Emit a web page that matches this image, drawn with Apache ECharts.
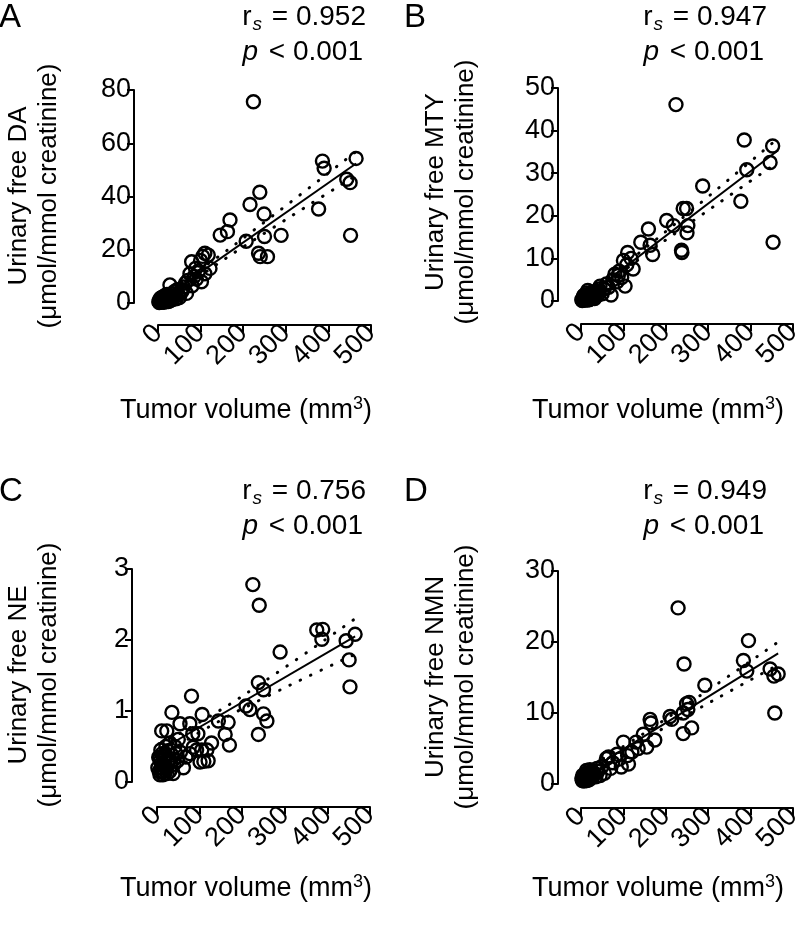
<!DOCTYPE html>
<html><head><meta charset="utf-8">
<script src="https://cdn.jsdelivr.net/npm/echarts@6.0.0/dist/echarts.min.js"></script>
<style>html,body{margin:0;padding:0;background:#fff}#c{width:800px;height:932px}</style>
</head><body><div id="c"></div><script>
// ---------- DATA ----------
const xTicks = [0, 100, 200, 300, 400, 500];

// Panel A: dopamine
const daX = [224,386,390,465,443,451,377,452,239,216,249,289,250,207,236,257,240,169,163,146, 110,105,118,100,79,122,95,85,102,70,60,67,28,45,35,55,50,80,110, 5,8,10,12,15,18,20,22,25,30,14,6,10,28,35,40,3,17, 2,4,7,9,11,13,16,19,21,24,26,32,38,42,48,58,65,90,75,88];
const daY = [75.6,53.3,50.6,54.3,46.5,45.2,35.3,25.4,41.6,37,33.4,25.4,25,23.2,18.7,17.4,17.4,31.2,26.8,25.5, 18.7,17.5,18,16,15.5,13,12,10,8,8.5,6,3.6,6.8,5,3.5,4,2,6.5,11, 0.5,1,0.8,1.5,1.2,0.6,2,1,1.8,2.5,0.3,1.8,2.2,0.8,1.5,2.8,0.2,2.8, 0.5,1.2,0.3,1.6,0.9,2.4,0.7,1.4,3.2,0.5,2.9,1.2,4.2,1.6,3.0,5,7.5,9,11,13];
const daFitX = [5, 465];
const daFitY = [0.9, 52.4];
const daCiX = [5, 110, 250, 465];
const daCiUpper = [2.6, 13.8, 30.4, 56.9];
const daCiLower = [-0.9, 11.4, 26.2, 47.9];

// Panel B: 3-methoxytyramine
const mtyX = [224,385,452,446,391,377,453,287,241,249,202,218,252,250,237,238,159,141,163,169, 110,118,100,108,123,90,96,75,80,71,104,85,60,55,45,40,35,30,25, 5,8,10,12,15,18,20,22,28,14,6,16,32,38,3, 2,4,7,9,11,13,17,19,21,24,26,34,42,50,65,88];
const mtyY = [46.1,37.8,36.4,32.5,30.8,23.4,13.8,27,21.7,21.7,18.9,17.7,17.7,16,11.9,11.4,16.9,13.8,13.1,10.9, 11.4,10,9.5,8.5,7.5,7,5.5,5,6.3,1.4,3.5,4.5,4,2.8,3.5,2.3,1.5,2.2,1, 0.3,0.8,0.5,1.2,0.7,1.5,0.4,1.8,0.9,0.2,1.1,2.5,0.6,1.2,0.1, 0.3,0.6,1.3,0.2,1.0,1.9,0.9,0.3,1.3,2.0,0.6,1.9,2.8,1.7,3.2,6];
const mtyFitX = [5, 465];
const mtyFitY = [0.5, 35.4];
const mtyCiX = [5, 110, 250, 465];
const mtyCiUpper = [1.5, 9.2, 20.4, 38.2];
const mtyCiLower = [-0.6, 7.8, 17.8, 32.6];

// Panel C: norepinephrine
const neX = [225,240,375,389,387,465,444,451,453,289,238,250,250,258,238,209,218,81,35,106,144,167,160,170,54,77,11,23,84,96,128,105,117,101,120,110,62,77,85,93, 5,8,10,12,15,18,20,22,25,28,30,35,40,45,14,6,38,42, 2,4,7,9,11,13,16,19,21,24,26,32,48,55,68,50,30];
const neY = [2.78,2.49,2.14,2.15,2.01,2.08,1.99,1.72,1.34,1.83,1.40,1.30,0.96,0.86,0.67,1.07,1.02,1.21,0.98,0.95,0.86,0.84,0.67,0.52,0.82,0.82,0.72,0.72,0.68,0.68,0.55,0.45,0.45,0.28,0.30,0.29,0.20,0.40,0.49,0.45, 0.15,0.3,0.2,0.4,0.25,0.12,0.35,0.18,0.44,0.3,0.15,0.38,0.25,0.4,0.1,0.33,0.12,0.5, 0.2,0.35,0.1,0.45,0.27,0.15,0.36,0.22,0.5,0.12,0.3,0.28,0.3,0.42,0.35,0.6,0.55];
const neFitX = [5, 465];
const neFitY = [0.44, 2.05];
const neCiX = [5, 110, 250, 465];
const neCiUpper = [0.54, 0.875, 1.41, 2.30];
const neCiLower = [0.34, 0.735, 1.18, 1.80];

// Panel D: normetanephrine
const nmnX = [229,395,243,383,391,446,455,465,457,292,249,252,241,255,241,261,214,210,163,165,174,147,130,100,155,120,110,112,135, 85,60,75,95,70,50,40,55,30, 5,8,10,12,15,18,20,22,25,28,14,6,35,3,17, 2,4,7,9,11,13,16,19,21,24,26,32,38,45,65,90];
const nmnY = [24.8,20.2,16.9,17.4,15.9,16.2,15.2,15.5,10,13.9,11.3,10.5,10,11.5,7.1,7.9,9.1,9.5,9.1,8.6,6.2,7,5.9,5.9,5.2,4.5,4,2.8,5, 4.2,3.6,3,2.4,2.2,2.5,1.8,1.5,1.2, 0.6,0.9,1,1.2,0.8,1.3,1.0,1.5,0.9,1.4,0.5,1.1,1.0,0.5,1.6, 0.8,1.2,0.4,1.4,0.7,1.9,1.1,0.6,2.0,1.2,1.8,1.5,2.2,1.2,3.8,3.5];
const nmnFitX = [5, 465];
const nmnFitY = [1.4, 18.4];
const nmnCiX = [5, 110, 250, 465];
const nmnCiUpper = [2.0, 5.67, 11.2, 20.0];
const nmnCiLower = [0.78, 4.87, 9.7, 16.8];

const letters = ['A', 'B', 'C', 'D'];
const analytes = ['DA', 'MTY', 'NE', 'NMN'];
const rsValues = ['0.952', '0.947', '0.756', '0.949'];
const pText = '< 0.001';
const yMax = [80, 50, 3, 30];
const yStep = [20, 10, 1, 10];

// ---------- LAYOUT ----------
const FONT = '"Liberation Sans", Arial, Helvetica, sans-serif';
const FS_TICK = 27, FS_NAME = 26, FS_XNAME = 27, FS_ANN = 28;
const layout = [
  {grid:{left:158, top:90, width:213, height:213}, yOff:24, xOff:22, lx:-1, ly:18, rsX:366, rsY:17, pX:363, pY:52, yn1:19, yn2:49, ynY:196, xnX:246, xnY:411},
  {grid:{left:581, top:88, width:212, height:213}, yOff:23, xOff:23, lx:404, ly:18, rsX:767, rsY:17, pX:764, pY:52, yn1:436, yn2:466, ynY:192, xnX:658, xnY:411},
  {grid:{left:157, top:569, width:213, height:213}, yOff:25, xOff:25, lx:-1, ly:492, rsX:366, rsY:491, pX:363, pY:526, yn1:19, yn2:49, ynY:675, xnX:246, xnY:889},
  {grid:{left:581, top:571, width:212, height:213}, yOff:23, xOff:24, lx:404, ly:492, rsX:767, rsY:491, pX:764, pY:526, yn1:436, yn2:466, ynY:677, xnX:658, xnY:889}
];

const sets = [
  {x:daX, y:daY, fx:daFitX, fy:daFitY, cx:daCiX, cu:daCiUpper, cl:daCiLower},
  {x:mtyX, y:mtyY, fx:mtyFitX, fy:mtyFitY, cx:mtyCiX, cu:mtyCiUpper, cl:mtyCiLower},
  {x:neX, y:neY, fx:neFitX, fy:neFitY, cx:neCiX, cu:neCiUpper, cl:neCiLower},
  {x:nmnX, y:nmnY, fx:nmnFitX, fy:nmnFitY, cx:nmnCiX, cu:nmnCiUpper, cl:nmnCiLower}
];

const zip = (a, b) => a.map((v, i) => [v, b[i]]);

const grids = [], xAxes = [], yAxes = [], series = [], graphics = [];
const axisLine = {show:true, onZero:false, lineStyle:{color:'#000', width:2}};
const axisTick = {show:true, inside:false, length:7, lineStyle:{color:'#000', width:2}};

for (let i = 0; i < 4; i++) {
  const L = layout[i], S = sets[i];
  grids.push(Object.assign({outerBoundsMode:'none', containLabel:false}, L.grid));
  xAxes.push({
    gridIndex:i, type:'value', min:xTicks[0], max:xTicks[xTicks.length-1], interval:100,
    offset:L.xOff, axisLine, axisTick, splitLine:{show:false},
    axisLabel:{rotate:45, color:'#000', fontSize:FS_TICK, fontFamily:FONT, margin:4}
  });
  yAxes.push({
    gridIndex:i, type:'value', min:0, max:yMax[i], interval:yStep[i],
    offset:L.yOff, axisLine, axisTick, splitLine:{show:false},
    axisLabel:{color:'#000', fontSize:FS_TICK, fontFamily:FONT, margin:3}
  });
  series.push({
    type:'scatter', xAxisIndex:i, yAxisIndex:i, data:zip(S.x, S.y),
    symbol:'circle', symbolSize:13, z:3,
    itemStyle:{color:'rgba(255,255,255,0)', borderColor:'#000', borderWidth:2.4, opacity:1},
    emphasis:{disabled:true}
  });
  series.push({
    type:'line', xAxisIndex:i, yAxisIndex:i, data:zip(S.fx, S.fy),
    showSymbol:false, symbol:'none', z:2, lineStyle:{color:'#000', width:2}, emphasis:{disabled:true}
  });
  [S.cu, S.cl].forEach(arr => series.push({
    type:'line', xAxisIndex:i, yAxisIndex:i, data:zip(S.cx, arr), smooth:true,
    showSymbol:false, symbol:'none', z:2,
    lineStyle:{color:'#000', width:3, type:[0.5, 11], cap:'round'}, emphasis:{disabled:true}
  }));

  const base = {fontFamily:FONT, fill:'#000'};
  graphics.push({type:'text', x:L.lx, y:L.ly, style:Object.assign({text:letters[i], fontSize:33, align:'left', verticalAlign:'middle'}, base)});
  graphics.push({type:'text', x:L.rsX, y:L.rsY, style:Object.assign({
    text:'{r|r}{s|s}{r| = ' + rsValues[i] + '}', align:'right', verticalAlign:'middle',
    rich:{r:{fontSize:FS_ANN, fontFamily:FONT, fill:'#000'}, s:{fontSize:19, fontStyle:'italic', fontFamily:FONT, fill:'#000', padding:[15,2,0,1]}}
  }, base)});
  graphics.push({type:'text', x:L.pX, y:L.pY, style:Object.assign({
    text:'{i|p}{r| ' + pText + '}', align:'right', verticalAlign:'middle',
    rich:{i:{fontSize:FS_ANN, fontStyle:'italic', fontFamily:FONT, fill:'#000', padding:[0,3,0,0]}, r:{fontSize:FS_ANN, fontFamily:FONT, fill:'#000'}}
  }, base)});
  graphics.push({type:'text', x:L.yn1, y:L.ynY, rotation:Math.PI/2, style:Object.assign({text:'Urinary free ' + analytes[i], fontSize:FS_NAME, align:'center', verticalAlign:'middle'}, base)});
  graphics.push({type:'text', x:L.yn2, y:L.ynY, rotation:Math.PI/2, style:Object.assign({text:'(μmol/mmol creatinine)', fontSize:FS_NAME, align:'center', verticalAlign:'middle'}, base)});
  graphics.push({type:'text', x:L.xnX, y:L.xnY, style:Object.assign({
    text:'{r|Tumor volume (mm}{s|3}{r|)}', align:'center', verticalAlign:'middle',
    rich:{r:{fontSize:FS_XNAME, fontFamily:FONT, fill:'#000'}, s:{fontSize:18, fontFamily:FONT, fill:'#000', padding:[0,0,13,0]}}
  }, base)});
}

const chart = echarts.init(document.getElementById('c'), null, {renderer:'canvas'});
chart.setOption({
  backgroundColor:'#fff', animation:false,
  grid:grids, xAxis:xAxes, yAxis:yAxes, series, graphic:graphics
});
</script></body></html>
